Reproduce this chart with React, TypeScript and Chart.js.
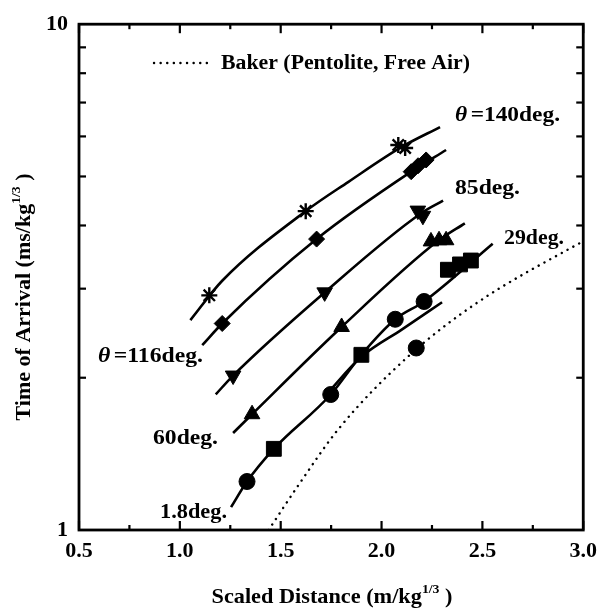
import React, { useEffect, useRef } from "react";
import { Chart, registerables } from "chart.js";
Chart.register(...registerables);

const FONT = '"Liberation Serif", "Times New Roman", serif';

// Axis ranges / ticks
const xMin = 0.5;
const xMax = 3.0;
const xMajorTicks = [0.5, 1.0, 1.5, 2.0, 2.5, 3.0];
const xMinorTicks = [0.75, 1.25, 1.75, 2.25, 2.75];
const yMin = 1;
const yMax = 10;
const yMinorTicks = [2, 3, 4, 5, 6, 7, 8, 9];
const yLabelled = [1, 10];

// Fitted curves
const c140X = [1.052, 1.21, 1.624, 1.836, 2.1, 2.29];
const c140Y = [2.6, 3.11, 4.27, 4.88, 5.72, 6.26];
const c116X = [1.111, 1.21, 1.678, 2.147, 2.32];
const c116Y = [2.32, 2.56, 3.76, 5.11, 5.64];
const c85X = [1.178, 1.264, 1.718, 2.196, 2.305];
const c85Y = [1.854, 2.02, 2.95, 4.23, 4.48];
const c60X = [1.264, 1.358, 1.802, 2.28, 2.413];
const c60Y = [1.555, 1.694, 2.52, 3.73, 4.04];
const cAX = [1.254, 1.333, 1.466, 1.748, 1.9, 2.068, 2.211, 2.551];
const cAY = [1.11, 1.247, 1.447, 1.853, 2.22, 2.61, 2.83, 3.68];
const cBX = [1.73, 1.9, 2.1, 2.3];
const cBY = [1.86, 2.2, 2.49, 2.82];

// Baker (Pentolite, Free Air)
const bakerX = [1.44, 1.59, 1.79, 2.13, 2.46, 2.96, 3.0];
const bakerY = [1.0, 1.23, 1.59, 2.2, 2.79, 3.65, 3.72];

// Measured points
const starX = [1.146, 1.624, 2.083, 2.117];
const starY = [2.91, 4.27, 5.77, 5.69];
const diamondX = [1.21, 1.678, 2.147, 2.181, 2.221];
const diamondY = [2.56, 3.76, 5.11, 5.25, 5.39];
const downTriX = [1.264, 1.718, 2.18, 2.205];
const downTriY = [2.02, 2.95, 4.28, 4.18];
const upTriX = [1.358, 1.802, 2.245, 2.285, 2.32];
const upTriY = [1.694, 2.52, 3.72, 3.74, 3.74];
const circleX = [1.333, 1.748, 2.068, 2.211, 2.172];
const circleY = [1.247, 1.853, 2.61, 2.83, 2.29];
const squareX = [1.466, 1.9, 2.329, 2.389, 2.443];
const squareY = [1.447, 2.22, 3.27, 3.35, 3.41];

const zip = (xs: number[], ys: number[]) => xs.map((x, i) => ({ x, y: ys[i] }));

const curve = (xs: number[], ys: number[]) => ({
  type: "line" as const,
  data: zip(xs, ys),
  borderColor: "#000",
  borderWidth: 2.6,
  pointRadius: 0,
  tension: 0.4,
  cubicInterpolationMode: "monotone" as const,
  fill: false,
});

const marks = (xs: number[], ys: number[], style: string, r: number, rot = 0) => ({
  type: "scatter" as const,
  data: zip(xs, ys),
  pointStyle: style,
  pointRadius: r,
  pointRotation: rot,
  backgroundColor: "#000",
  borderColor: "#000",
  borderWidth: style === "star" ? 2.4 : 1,
  showLine: false,
});

type Part = { t: string; sup?: boolean; italic?: boolean; gap?: number };

// Draws a run of text parts, stretched horizontally to a target width.
// anchor: 'left' (x = left edge) or 'center'
function drawRun(
  ctx: CanvasRenderingContext2D,
  parts: Part[],
  size: number,
  x: number,
  y: number,
  targetW: number,
  anchor: "left" | "center"
) {
  const fontOf = (p: Part) =>
    `${p.italic ? "italic " : ""}bold ${p.sup ? Math.round(size * 0.6) : size}px ${FONT}`;
  const widths = parts.map((p) => {
    ctx.font = fontOf(p);
    return ctx.measureText(p.t).width + (p.gap || 0);
  });
  const natural = widths.reduce((a, b) => a + b, 0);
  const sx = targetW / natural;
  ctx.save();
  ctx.translate(x, y);
  ctx.scale(sx, 1);
  let cx = anchor === "center" ? -natural / 2 : 0;
  ctx.textAlign = "left";
  ctx.textBaseline = "middle";
  parts.forEach((p, i) => {
    ctx.font = fontOf(p);
    ctx.fillText(p.t, cx, p.sup ? -size * 0.42 : 0);
    cx += widths[i];
  });
  ctx.restore();
}

const decorations = {
  id: "decorations",
  afterDraw(chart: any) {
    const { ctx, chartArea } = chart;
    const xs = chart.scales.x;
    const ys = chart.scales.y;
    const { left, right, top, bottom } = chartArea;
    ctx.save();
    ctx.strokeStyle = "#000";
    ctx.fillStyle = "#000";
    // frame
    ctx.lineWidth = 2.8;
    ctx.strokeRect(left, top, right - left, bottom - top);
    ctx.lineWidth = 2.2;
    const seg = (x1: number, y1: number, x2: number, y2: number) => {
      ctx.beginPath();
      ctx.moveTo(x1, y1);
      ctx.lineTo(x2, y2);
      ctx.stroke();
    };
    xMajorTicks.forEach((v) => {
      const px = xs.getPixelForValue(v);
      seg(px, bottom, px, bottom - 9);
      seg(px, top, px, top + 9);
    });
    xMinorTicks.forEach((v) => {
      const px = xs.getPixelForValue(v);
      seg(px, bottom, px, bottom - 5);
      seg(px, top, px, top + 5);
    });
    yMinorTicks.forEach((v) => {
      const py = ys.getPixelForValue(v);
      seg(left, py, left + 7, py);
      seg(right, py, right - 7, py);
    });

    // legend
    ctx.save();
    ctx.lineWidth = 2.4;
    ctx.lineCap = "round";
    ctx.setLineDash([0.1, 6.5]);
    seg(154, 63, 207, 63);
    ctx.restore();
    drawRun(ctx, [{ t: "Baker (Pentolite, Free Air)" }], 20, 221, 64, 249, "left");

    // series labels
    drawRun(ctx, [{ t: "\u03B8", italic: true, gap: 3 }, { t: "=140deg." }], 20, 455, 116, 105, "left");
    drawRun(ctx, [{ t: "\u03B8", italic: true, gap: 3 }, { t: "=116deg." }], 20, 98, 357, 105, "left");
    drawRun(ctx, [{ t: "85deg." }], 20, 455, 189, 65, "left");
    drawRun(ctx, [{ t: "29deg." }], 20, 504, 239, 60, "left");
    drawRun(ctx, [{ t: "60deg." }], 20, 153, 439, 65, "left");
    drawRun(ctx, [{ t: "1.8deg." }], 20, 160, 513, 67, "left");

    // axis titles
    drawRun(
      ctx,
      [{ t: "Scaled Distance (m/kg" }, { t: "1/3", sup: true }, { t: " )" }],
      21,
      332,
      598,
      241,
      "center"
    );
    ctx.save();
    ctx.translate(25, 297);
    ctx.rotate(-Math.PI / 2);
    drawRun(
      ctx,
      [{ t: "Time of Arrival (ms/kg" }, { t: "1/3", sup: true }, { t: " )" }],
      21,
      0,
      0,
      247,
      "center"
    );
    ctx.restore();
    ctx.restore();
  },
};

export default function App() {
  const ref = useRef<HTMLCanvasElement | null>(null);
  useEffect(() => {
    if (!ref.current) return;
    const chart = new Chart(ref.current, {
      type: "scatter",
      data: {
        datasets: [
          {
            type: "line",
            data: zip(bakerX, bakerY),
            borderColor: "#000",
            borderWidth: 2.4,
            borderDash: [0.1, 6.5],
            borderCapStyle: "round",
            pointRadius: 0,
            tension: 0.4,
            cubicInterpolationMode: "monotone",
            fill: false,
          } as any,
          curve(c140X, c140Y),
          curve(c116X, c116Y),
          curve(c85X, c85Y),
          curve(c60X, c60Y),
          curve(cAX, cAY),
          curve(cBX, cBY),
          marks(starX, starY, "star", 8),
          marks(diamondX, diamondY, "rectRot", 8),
          marks(downTriX, downTriY, "triangle", 9, 180),
          marks(upTriX, upTriY, "triangle", 9, 0),
          marks(circleX, circleY, "circle", 8),
          marks(squareX, squareY, "rect", 10.5),
        ] as any,
      },
      options: {
        animation: false,
        responsive: false,
        maintainAspectRatio: false,
        layout: { padding: { top: 19, right: 19, left: 0, bottom: 0 } },
        plugins: { legend: { display: false }, tooltip: { enabled: false } },
        scales: {
          x: {
            type: "linear",
            min: xMin,
            max: xMax,
            grid: { display: false, drawTicks: false },
            border: { display: false },
            ticks: {
              stepSize: 0.5,
              autoSkip: false,
              maxRotation: 0,
              padding: 8,
              color: "#000",
              font: { family: FONT, size: 22, weight: "bold" },
              callback: (v: any) => Number(v).toFixed(1),
            },
            afterFit: (s: any) => {
              s.height = 84;
            },
          },
          y: {
            type: "logarithmic",
            min: yMin,
            max: yMax,
            grid: { display: false, drawTicks: false },
            border: { display: false },
            ticks: {
              autoSkip: false,
              padding: 11,
              color: "#000",
              font: { family: FONT, size: 22, weight: "bold" },
              callback: (v: any) => (yLabelled.includes(Number(v)) ? String(v) : ""),
            },
            afterFit: (s: any) => {
              s.width = 79;
            },
          },
        },
      } as any,
      plugins: [decorations],
    });
    return () => chart.destroy();
  }, []);
  return (
    <div style={{ position: "absolute", left: 0, top: 0, width: 605, height: 614, background: "#fff" }}>
      <canvas ref={ref} width={605} height={614} />
    </div>
  );
}
